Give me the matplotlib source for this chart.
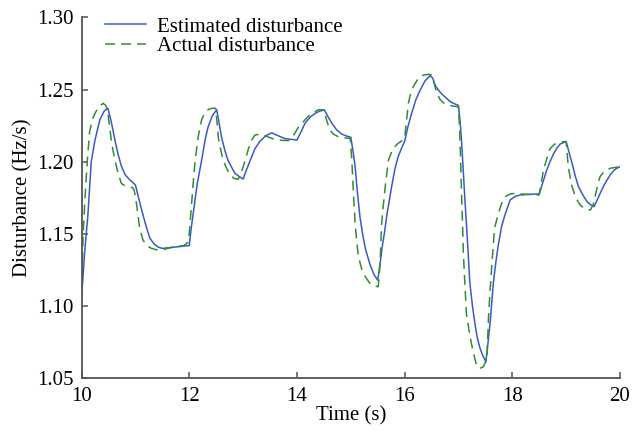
import matplotlib
matplotlib.use('Agg')
import matplotlib.pyplot as plt
from matplotlib.ticker import FormatStrFormatter

# Estimated disturbance (blue, solid)
est_t = [10.00, 10.06, 10.12, 10.18, 10.25, 10.34, 10.42, 10.49, 10.55, 10.62,
         10.68, 10.74, 10.81, 10.87, 10.94, 11.00, 11.08, 11.15, 11.21, 11.27,
         11.35, 11.42, 11.50, 11.75, 12.00, 12.04, 12.07, 12.15, 12.23, 12.30,
         12.35, 12.43, 12.51, 12.55, 12.60, 12.66, 12.72, 12.79, 12.85, 12.92,
         13.00, 13.08, 13.16, 13.22, 13.31, 13.42, 13.53, 13.65, 13.78, 14.00,
         14.08, 14.15, 14.25, 14.34, 14.42, 14.51, 14.58, 14.65, 14.74, 14.83,
         14.92, 15.00, 15.04, 15.08, 15.12, 15.17, 15.22, 15.27, 15.36, 15.43,
         15.50, 15.54, 15.58, 15.63, 15.67, 15.76, 15.82, 15.88, 15.95, 16.00,
         16.06, 16.13, 16.21, 16.29, 16.38, 16.47, 16.52, 16.58, 16.63, 16.70,
         16.78, 16.85, 16.91, 17.00, 17.03, 17.06, 17.09, 17.12, 17.16, 17.21,
         17.26, 17.31, 17.35, 17.40, 17.45, 17.51, 17.55, 17.59, 17.65, 17.70,
         17.74, 17.80, 17.87, 17.96, 18.05, 18.15, 18.35, 18.50, 18.57, 18.64,
         18.70, 18.77, 18.83, 18.89, 19.00, 19.05, 19.11, 19.17, 19.23, 19.31,
         19.39, 19.46, 19.52, 19.57, 19.63, 19.70, 19.76, 19.82, 19.88, 19.94,
         20.00]
est_v = [1.106, 1.138, 1.164, 1.200, 1.215, 1.229, 1.235, 1.237, 1.228, 1.215,
         1.205, 1.197, 1.191, 1.1885, 1.186, 1.184, 1.172, 1.162, 1.154, 1.147,
         1.143, 1.141, 1.140, 1.141, 1.142, 1.155, 1.163, 1.185, 1.201, 1.216,
         1.224, 1.232, 1.236, 1.228, 1.217, 1.208, 1.201, 1.196, 1.192, 1.190,
         1.188, 1.196, 1.2035, 1.209, 1.214, 1.218, 1.220, 1.218, 1.216, 1.215,
         1.221, 1.2266, 1.231, 1.2335, 1.235, 1.2358, 1.231, 1.2266, 1.222, 1.2192,
         1.2178, 1.217, 1.208, 1.197, 1.180, 1.162, 1.150, 1.140, 1.1285, 1.122,
         1.118, 1.128, 1.140, 1.152, 1.163, 1.183, 1.195, 1.2035, 1.210, 1.214,
         1.224, 1.2335, 1.243, 1.2497, 1.256, 1.2595, 1.258, 1.252, 1.2495, 1.2465,
         1.2439, 1.2415, 1.2404, 1.239, 1.228, 1.213, 1.193, 1.1735, 1.150, 1.117,
         1.100, 1.087, 1.078, 1.071, 1.066, 1.0615, 1.075, 1.0893, 1.117, 1.132,
         1.1424, 1.155, 1.164, 1.1735, 1.176, 1.177, 1.1775, 1.1777, 1.186, 1.1943,
         1.200, 1.2058, 1.2095, 1.2123, 1.214, 1.207, 1.199, 1.190, 1.1827, 1.177,
         1.1723, 1.170, 1.169, 1.173, 1.178, 1.1835, 1.1874, 1.191, 1.1938, 1.1955,
         1.1965]

# Actual disturbance (green, dashed)
act_t = [10.00, 10.03, 10.06, 10.10, 10.15, 10.20, 10.25, 10.32, 10.40, 10.45,
         10.49, 10.53, 10.56, 10.62, 10.68, 10.74, 10.80, 10.87, 10.95, 10.98,
         11.02, 11.08, 11.14, 11.21, 11.30, 11.40, 11.49, 11.60, 11.73, 11.90,
         11.97, 12.00, 12.04, 12.08, 12.11, 12.17, 12.23, 12.29, 12.35, 12.42,
         12.49, 12.52, 12.54, 12.58, 12.63, 12.70, 12.76, 12.83, 12.91, 12.97,
         13.04, 13.10, 13.16, 13.22, 13.31, 13.40, 13.55, 13.65, 13.84, 13.95,
         14.03, 14.15, 14.25, 14.40, 14.50, 14.55, 14.61, 14.68, 14.77, 14.88,
         14.99, 15.02, 15.05, 15.08, 15.11, 15.14, 15.20, 15.27, 15.35, 15.43,
         15.51, 15.53, 15.55, 15.57, 15.60, 15.64, 15.70, 15.76, 15.82, 15.88,
         15.95, 16.00, 16.04, 16.07, 16.11, 16.16, 16.25, 16.35, 16.45, 16.51,
         16.55, 16.60, 16.66, 16.73, 16.81, 16.90, 17.00, 17.02, 17.04, 17.06,
         17.08, 17.09, 17.12, 17.15, 17.21, 17.27, 17.34, 17.40, 17.46, 17.51,
         17.53, 17.56, 17.59, 17.62, 17.67, 17.74, 17.80, 17.87, 17.95, 18.02,
         18.25, 18.50, 18.54, 18.58, 18.64, 18.70, 18.78, 18.87, 18.95, 19.00,
         19.02, 19.04, 19.08, 19.11, 19.18, 19.26, 19.35, 19.45, 19.50, 19.55,
         19.60, 19.63, 19.70, 19.82, 19.90, 20.00]
act_v = [1.108, 1.150, 1.172, 1.197, 1.2208, 1.229, 1.2335, 1.238, 1.2404, 1.239,
         1.2335, 1.222, 1.2128, 1.201, 1.192, 1.185, 1.1835, 1.1827, 1.182, 1.180,
         1.171, 1.154, 1.146, 1.142, 1.140, 1.139, 1.139, 1.140, 1.1412, 1.142,
         1.144, 1.150, 1.169, 1.188, 1.201, 1.218, 1.229, 1.234, 1.236, 1.237,
         1.237, 1.226, 1.217, 1.209, 1.201, 1.195, 1.1908, 1.1885, 1.1878, 1.193,
         1.201, 1.209, 1.215, 1.2185, 1.219, 1.218, 1.216, 1.215, 1.2146, 1.219,
         1.224, 1.229, 1.233, 1.236, 1.236, 1.229, 1.222, 1.219, 1.2173, 1.2165,
         1.2162, 1.201, 1.178, 1.158, 1.145, 1.135, 1.126, 1.1205, 1.116, 1.114,
         1.1135, 1.122, 1.135, 1.155, 1.168, 1.1827, 1.201, 1.207, 1.2105, 1.2128,
         1.2145, 1.216, 1.230, 1.2404, 1.247, 1.252, 1.2575, 1.260, 1.2605, 1.260,
         1.254, 1.2474, 1.243, 1.2405, 1.2393, 1.2385, 1.238, 1.224, 1.201, 1.175,
         1.152, 1.138, 1.115, 1.094, 1.080, 1.069, 1.0585, 1.057, 1.058, 1.062,
         1.066, 1.094, 1.112, 1.1285, 1.154, 1.164, 1.171, 1.1758, 1.1775, 1.178,
         1.1775, 1.177, 1.186, 1.1943, 1.202, 1.209, 1.212, 1.2135, 1.2139, 1.214,
         1.205, 1.1966, 1.188, 1.1827, 1.175, 1.170, 1.1675, 1.1666, 1.170, 1.178,
         1.186, 1.1897, 1.193, 1.1955, 1.196, 1.1966]

x_ticks = [10, 12, 14, 16, 18, 20]
y_ticks = [1.05, 1.10, 1.15, 1.20, 1.25, 1.30]

plt.rcParams['font.family'] = ['Liberation Serif', 'DejaVu Serif']
plt.rcParams['font.size'] = 15

fig = plt.figure(figsize=(6.32, 4.32), dpi=100)
ax = fig.add_axes([0.129, 0.124, 0.852, 0.836])

ax.plot(est_t, est_v, color='#3a5bc7', lw=1.1, label='Estimated disturbance')
ax.plot(act_t, act_v, color='#2f8f2f', lw=1.1, dashes=(6.5, 4), label='Actual disturbance')

ax.set_xlim(10, 20)
ax.set_ylim(1.05, 1.30)
ax.set_xticks(x_ticks)
ax.set_yticks(y_ticks)
ax.yaxis.set_major_formatter(FormatStrFormatter('%.2f'))

for side in ['top', 'right']:
    ax.spines[side].set_visible(False)
for side in ['left', 'bottom']:
    ax.spines[side].set_color('#555555')
    ax.spines[side].set_linewidth(1.3)
ax.tick_params(direction='in', length=4, width=1.1, color='#555555', pad=6)

ax.set_xlabel('Time (s)', labelpad=0)
ax.set_ylabel('Disturbance (Hz/s)', labelpad=3)

ax.legend(loc='upper left', frameon=False, handlelength=2.0, handletextpad=0.5,
          borderaxespad=0.2, labelspacing=0.0, bbox_to_anchor=(0.02, 1.035))

fig.savefig('out.png', dpi=100)
